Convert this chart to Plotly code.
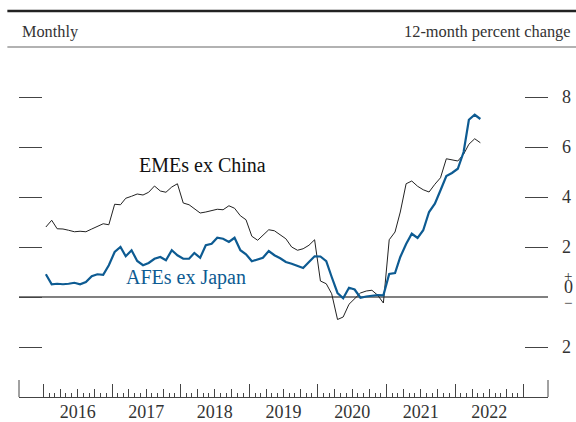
import plotly.graph_objects as go

# Monthly observations, January 2016 through May 2022 (plotted mid-month)
months = [f"{y}-{m:02d}-15" for y in range(2016, 2023) for m in range(1, 13)][:77]

emes_ex_china = [
    2.80, 3.07, 2.73, 2.72, 2.67, 2.61, 2.63, 2.61, 2.72, 2.83, 2.93, 2.89,
    3.71, 3.69, 3.95, 4.03, 4.12, 4.08, 4.19, 4.44, 4.24, 4.19, 4.40, 4.53,
    3.76, 3.69, 3.53, 3.36, 3.40, 3.45, 3.51, 3.49, 3.65, 3.55, 3.25, 3.09,
    2.43, 2.27, 2.47, 2.69, 2.65, 2.50, 2.33, 2.00, 1.87, 1.93, 2.07, 2.29,
    0.64, 0.53, 0.13, -0.90, -0.80, -0.29, -0.07, 0.16, 0.24, 0.27, 0.07, -0.24,
    2.29, 2.60, 3.40, 4.53, 4.64, 4.43, 4.29, 4.20, 4.51, 4.77, 5.53, 5.49,
    5.44, 5.71, 6.11, 6.33, 6.17,
]

afes_ex_japan = [
    0.91, 0.51, 0.53, 0.51, 0.53, 0.57, 0.51, 0.60, 0.83, 0.91, 0.89, 1.27,
    1.80, 2.00, 1.63, 1.87, 1.44, 1.27, 1.36, 1.53, 1.60, 1.47, 1.87, 1.67,
    1.53, 1.53, 1.76, 1.57, 2.07, 2.13, 2.37, 2.33, 2.20, 2.37, 1.87, 1.71,
    1.43, 1.49, 1.57, 1.84, 1.67, 1.55, 1.40, 1.33, 1.24, 1.16, 1.40, 1.63,
    1.62, 1.43, 0.80, 0.16, -0.05, 0.37, 0.30, -0.03, 0.02, 0.05, 0.08, 0.07,
    0.92, 0.96, 1.60, 2.12, 2.53, 2.36, 2.67, 3.40, 3.73, 4.27, 4.84, 4.96,
    5.13, 5.80, 7.09, 7.29, 7.12,
]

years = [2016, 2017, 2018, 2019, 2020, 2021, 2022]
year_labels = [str(y) for y in years]
year_mid = [f"{y}-07-02" for y in years]
year_start = [f"{y}-01-01" for y in years + [2023]]
quarter_ticks = [f"{y}-{m:02d}-01" for y in years for m in (4, 7, 10)]
month_ticks = [f"{y}-{m:02d}-01" for y in years for m in (2, 3, 5, 6, 8, 9, 11, 12)]

y_tick_vals = [8, 6, 4, 2, 0, -2]
y_label_vals = [8, 6, 4, 2, -2]
y_label_text = ["8", "6", "4", "2", "2"]

x_range = ["2015-08-25", "2023-05-10"]
y_range = [-4, 10]

BLUE = "#0d5b92"
INK = "#333333"
SERIF = "Liberation Serif"

fig = go.Figure()
fig.add_trace(go.Scatter(x=months, y=emes_ex_china, mode="lines",
                         line=dict(color="#222222", width=1.0),
                         showlegend=False, hoverinfo="skip"))
fig.add_trace(go.Scatter(x=months, y=afes_ex_japan, mode="lines",
                         line=dict(color=BLUE, width=2.2),
                         showlegend=False, hoverinfo="skip"))
# empty traces so the overlay axes are drawn
for xa, ya in (("x2", "y"), ("x3", "y"), ("x", "y2")):
    fig.add_trace(go.Scatter(x=[], y=[], xaxis=xa, yaxis=ya,
                             showlegend=False, hoverinfo="skip"))

fig.update_layout(
    width=576, height=422,
    margin=dict(l=19, r=28, t=47, b=25),
    paper_bgcolor="white", plot_bgcolor="white",
    font=dict(family=SERIF, size=18, color=INK),
    xaxis=dict(type="date", range=x_range, showgrid=False, zeroline=False,
               automargin=False,
               showline=True, linecolor="#444444", linewidth=1,
               tickmode="array", tickvals=year_mid, ticktext=year_labels,
               ticks="", ticklabelstandoff=-2,
               tickfont=dict(family=SERIF, size=18, color=INK)),
    xaxis2=dict(type="date", range=x_range, overlaying="x", anchor="y",
                side="bottom", showgrid=False, zeroline=False, showline=False,
                automargin=False,
                showticklabels=False, tickmode="array", tickvals=year_start,
                ticks="inside", ticklen=13, tickwidth=1, tickcolor="#444444",
                minor=dict(tickmode="array", tickvals=month_ticks,
                           ticks="inside", ticklen=4.5, tickwidth=1,
                           tickcolor="#444444")),
    xaxis3=dict(type="date", range=x_range, overlaying="x", anchor="y",
                side="bottom", showgrid=False, zeroline=False, showline=False,
                automargin=False,
                showticklabels=False, tickmode="array", tickvals=quarter_ticks,
                ticks="inside", ticklen=8.5, tickwidth=1, tickcolor="#444444"),
    yaxis=dict(range=y_range, showgrid=False, showline=False,
               automargin=False,
               zeroline=True, zerolinecolor="#808080", zerolinewidth=1.5,
               tickmode="array", tickvals=y_tick_vals, ticks="inside",
               ticklen=23, tickwidth=1, tickcolor="#444444",
               showticklabels=False),
    yaxis2=dict(range=y_range, overlaying="y", side="right", anchor="x",
                showgrid=False, showline=False, zeroline=False,
                automargin=False,
                tickmode="array", tickvals=y_label_vals,
                ticktext=y_label_text, ticks="inside", ticklen=23,
                tickwidth=1, tickcolor="#444444", ticklabelstandoff=13,
                tickfont=dict(family=SERIF, size=18, color=INK)),
)

shapes = [
    # heavy rule above the header and thin rule below it
    dict(type="line", xref="paper", yref="paper", x0=-0.022, x1=1.06,
         y0=1.103, y1=1.103, line=dict(color="#222222", width=2.6)),
    dict(type="line", xref="paper", yref="paper", x0=-0.022, x1=1.06,
         y0=1.0, y1=1.0, line=dict(color="#666666", width=1.2)),
    # tall end ticks on the date axis
    dict(type="line", xref="paper", yref="paper", x0=0, x1=0,
         y0=0, y1=17 / 350, line=dict(color="#444444", width=1)),
    dict(type="line", xref="paper", yref="paper", x0=1, x1=1,
         y0=0, y1=17 / 350, line=dict(color="#444444", width=1)),
]
fig.update_layout(shapes=shapes)

lab_x = (568 - 19) / 529
annotations = [
    dict(text="Monthly", xref="paper", yref="paper", x=(20 - 19) / 529,
         y=(397 - 31.7) / 350, xanchor="left", yanchor="middle",
         showarrow=False, font=dict(family=SERIF, size=16.3, color=INK)),
    dict(text="12-month percent change", xref="paper", yref="paper",
         x=(572.5 - 19) / 529, y=(397 - 31.7) / 350, xanchor="right",
         yanchor="middle", showarrow=False,
         font=dict(family=SERIF, size=16.4, color=INK)),
    # sign markers stacked around the zero label
    dict(text="+", xref="paper", yref="y", x=lab_x, y=0.86, xanchor="center",
         yanchor="middle", showarrow=False,
         font=dict(family=SERIF, size=15, color=INK)),
    dict(text="0", xref="paper", yref="y", x=lab_x, y=0.40, xanchor="center",
         yanchor="middle", showarrow=False,
         font=dict(family=SERIF, size=18, color=INK)),
    dict(text="\u2212", xref="paper", yref="y", x=lab_x, y=-0.22,
         xanchor="center", yanchor="middle", showarrow=False,
         font=dict(family=SERIF, size=15, color=INK)),
    dict(text="EMEs ex China", xref="paper", yref="y", x=(137 - 19) / 529,
         y=5.3, xanchor="left", yanchor="middle", showarrow=False,
         font=dict(family=SERIF, size=20, color="#111111")),
    dict(text="AFEs ex Japan", xref="paper", yref="y", x=(124 - 19) / 529,
         y=0.8, xanchor="left", yanchor="middle", showarrow=False,
         font=dict(family=SERIF, size=20, color=BLUE)),
]
fig.update_layout(annotations=annotations)

fig.write_html("out.html")
